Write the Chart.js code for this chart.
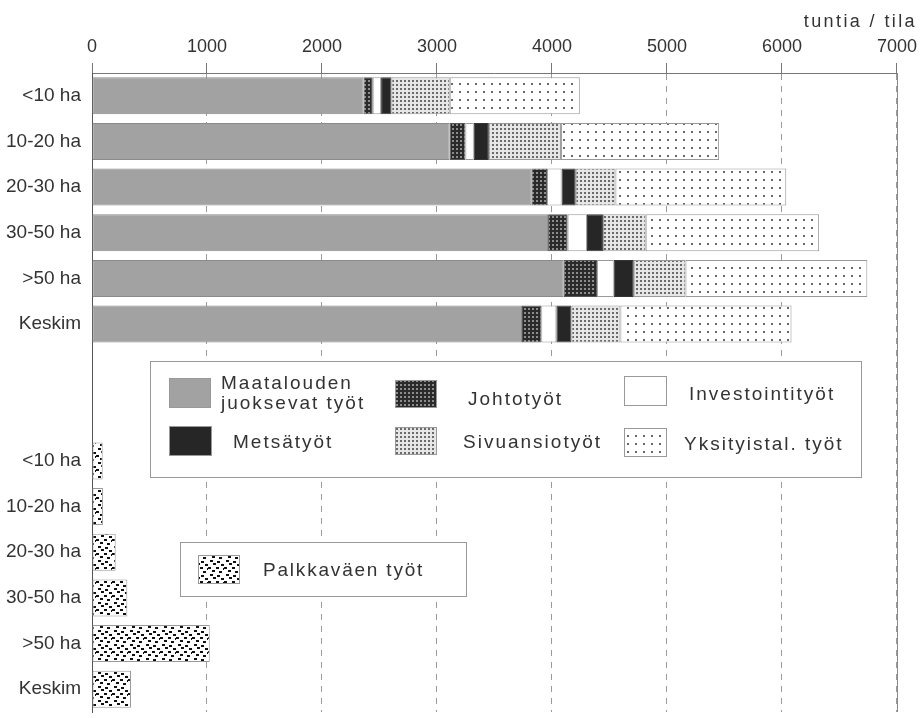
<!DOCTYPE html>
<html>
<head>
<meta charset="utf-8">
<script src="https://cdn.jsdelivr.net/npm/chart.js@4"></script>
<style>
  html, body { margin: 0; padding: 0; background: #fff; }
  #wrap { width: 922px; height: 718px; }
</style>
</head>
<body>
<div id="wrap"><canvas id="work_chart" width="922" height="718"></canvas></div>
<script>
// tilakoko-luokat
const size_labels = ['<10 ha', '10-20 ha', '20-30 ha', '30-50 ha', '>50 ha', 'Keskim']
const x_ticks = [0, 1000, 2000, 3000, 4000, 5000, 6000, 7000]

// tuntia / tila
const maatalous = [2361, 3110, 3821, 3966, 4102, 3739]
const johto = [80, 137, 136, 170, 290, 168]
const investointi = [73, 73, 127, 168, 145, 131]
const metsa = [90, 131, 122, 139, 174, 131]
const sivuansio = [507, 627, 346, 372, 450, 426]
const yksityis = [1131, 1375, 1485, 1508, 1581, 1488]
const palkka = [93, 95, 206, 307, 1024, 339]

const gap = ['', '']
const row_labels = [...size_labels, ...gap, ...size_labels]
const top_rows = vals => [...vals, ...gap.map(() => null), ...size_labels.map(() => null)]
const bottom_rows = vals => [...size_labels.map(() => null), ...gap.map(() => null), ...vals]

const font_main = "'Liberation Sans', Arial, sans-serif"

function tile(w, h, bg, draw) {
    const c = document.createElement('canvas')
    c.width = w
    c.height = h
    const g = c.getContext('2d')
    g.fillStyle = bg
    g.fillRect(0, 0, w, h)
    draw(g)
    return g.createPattern(c, 'repeat')
}

const fill_johto = tile(4, 4, '#2a2a2a', g => { g.fillStyle = '#8c8c8c'; g.fillRect(0, 0, 2, 2) })
const fill_sivu = tile(4, 4, '#e6e6e6', g => { g.fillStyle = '#6a6a6a'; g.fillRect(0, 0, 2, 2) })
const fill_yksit = tile(8, 8, '#ffffff', g => { g.fillStyle = '#666'; g.fillRect(3, 3, 2, 2) })
const fill_palkka = tile(16, 14, '#ffffff', g => {
    g.fillStyle = '#111'
    const dashes = [[2, 0], [9, 1], [5, 3], [13, 4], [0, 7], [8, 7], [4, 10], [11, 11], [15, 8]]
    dashes.forEach(d => g.fillRect(d[0], d[1], 3, 2))
})

const datasets = [
    { label: 'Maatalouden juoksevat työt', data: top_rows(maatalous), backgroundColor: '#a2a2a2', borderColor: '#8a8a8a' },
    { label: 'Johtotyöt', data: top_rows(johto), backgroundColor: fill_johto, borderColor: '#555' },
    { label: 'Investointityöt', data: top_rows(investointi), backgroundColor: '#ffffff', borderColor: '#999' },
    { label: 'Metsätyöt', data: top_rows(metsa), backgroundColor: '#262626', borderColor: '#333' },
    { label: 'Sivuansiotyöt', data: top_rows(sivuansio), backgroundColor: fill_sivu, borderColor: '#999' },
    { label: 'Yksityistal. työt', data: top_rows(yksityis), backgroundColor: fill_yksit, borderColor: '#999' },
    { label: 'Palkkaväen työt', data: bottom_rows(palkka), backgroundColor: fill_palkka, borderColor: '#999' }
]
datasets.forEach(d => {
    d.borderWidth = 1
    d.borderSkipped = false
    d.categoryPercentage = 1
    d.barPercentage = 0.81
})

// legend layout, one entry per dataset
const legend_boxes = [
    { x: 150.5, y: 361.5, w: 711, h: 116 },
    { x: 180.5, y: 542.5, w: 286, h: 54 }
]
const legend_items = [
    { sx: 169, sy: 378, sw: 42, sh: 30, lines: ['Maatalouden', 'juoksevat työt'], tx: 221, ty: [389, 409] },
    { sx: 395, sy: 380, sw: 42, sh: 28, lines: ['Johtotyöt'], tx: 468, ty: [405] },
    { sx: 624, sy: 376, sw: 43, sh: 30, lines: ['Investointityöt'], tx: 689, ty: [400] },
    { sx: 169, sy: 426, sw: 43, sh: 30, lines: ['Metsätyöt'], tx: 233, ty: [448] },
    { sx: 395, sy: 427, sw: 42, sh: 28, lines: ['Sivuansiotyöt'], tx: 463, ty: [448] },
    { sx: 624, sy: 428, sw: 43, sh: 29, lines: ['Yksityistal. työt'], tx: 684, ty: [450] },
    { sx: 198, sy: 555, sw: 42, sh: 29, lines: ['Palkkaväen työt'], tx: 263, ty: [576] }
]

const extras = {
    id: 'extras',
    beforeDatasetsDraw(chart) {
        // solid frame line at 7000
        const { ctx, chartArea: a } = chart
        ctx.save()
        ctx.strokeStyle = '#8a8a8a'
        ctx.lineWidth = 1
        ctx.beginPath()
        ctx.moveTo(Math.round(a.right) + 0.5, a.top)
        ctx.lineTo(Math.round(a.right) + 0.5, a.bottom)
        ctx.stroke()
        ctx.restore()
    },
    afterDraw(chart) {
        const ctx = chart.ctx
        ctx.save()
        ctx.fillStyle = '#333'
        ctx.font = '18px ' + font_main
        ctx.letterSpacing = '2.4px'
        ctx.textAlign = 'right'
        ctx.textBaseline = 'alphabetic'
        ctx.fillText('tuntia / tila', 917, 27)

        legend_boxes.forEach(b => {
            ctx.fillStyle = '#fff'
            ctx.fillRect(b.x, b.y, b.w, b.h)
            ctx.strokeStyle = '#999'
            ctx.lineWidth = 1
            ctx.strokeRect(b.x, b.y, b.w, b.h)
        })
        legend_items.forEach((it, i) => {
            const ds = chart.data.datasets[i]
            ctx.fillStyle = ds.backgroundColor
            ctx.fillRect(it.sx, it.sy, it.sw, it.sh)
            ctx.strokeStyle = '#999'
            ctx.strokeRect(it.sx + 0.5, it.sy + 0.5, it.sw - 1, it.sh - 1)
            ctx.fillStyle = '#333'
            ctx.textAlign = 'left'
            ctx.font = '19px ' + font_main
            ctx.letterSpacing = i === 6 ? '1.8px' : '2px'
            it.lines.forEach((line, k) => ctx.fillText(line, it.tx, it.ty[k]))
        })
        ctx.restore()
    }
}

new Chart(document.querySelector('#work_chart'), {
    type: 'bar',
    data: { labels: row_labels, datasets: datasets },
    options: {
        indexAxis: 'y',
        responsive: false,
        animation: false,
        layout: { padding: { left: 0, right: 25, top: 0, bottom: 6 } },
        plugins: {
            legend: { display: false },
            tooltip: { enabled: false }
        },
        scales: {
            x: {
                type: 'linear',
                position: 'top',
                stacked: true,
                min: 0,
                max: 7000,
                afterBuildTicks: s => { s.ticks = x_ticks.map(v => ({ value: v })) },
                ticks: {
                    font: { family: font_main, size: 18 },
                    color: '#333',
                    padding: 5,
                    maxRotation: 0,
                    autoSkip: false,
                    callback: value => String(value)
                },
                grid: { color: '#9a9a9a', tickColor: '#777', tickLength: 10, lineWidth: 1 },
                border: { color: '#777', dash: [6, 6] },
                afterFit: s => { s.height = 73 }
            },
            y: {
                type: 'category',
                stacked: true,
                grid: { display: false, drawTicks: false },
                border: { color: '#555' },
                ticks: { font: { family: font_main, size: 19 }, color: '#333', padding: 11, autoSkip: false },
                afterFit: s => {
                    s.width = 92
                    s.paddingTop = 0
                    s.paddingBottom = 0
                }
            }
        }
    },
    plugins: [extras]
})
</script>
</body>
</html>
